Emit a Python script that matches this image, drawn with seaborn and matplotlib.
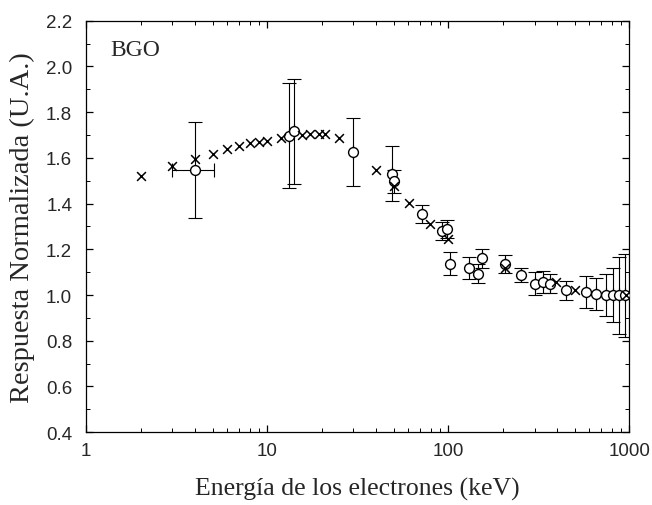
import numpy as np
import pandas as pd
import matplotlib
matplotlib.use("Agg")
import matplotlib.pyplot as plt
import seaborn as sns
from matplotlib.ticker import FixedLocator, FixedFormatter, LogLocator, NullFormatter, MultipleLocator

# Simulation (crosses)
sim_energy = [2, 3, 4, 5, 6, 7, 8, 9, 10, 12, 15.5, 17.3, 19.3, 21, 25, 40, 50, 61, 79, 100, 205, 396, 499, 961]
sim_resp = [1.52, 1.565, 1.597, 1.616, 1.637, 1.651, 1.663, 1.670, 1.675, 1.688, 1.702, 1.703, 1.703, 1.705,
            1.685, 1.546, 1.476, 1.404, 1.312, 1.247, 1.12, 1.057, 1.02, 0.998]

# Measurements (open circles) with errors
exp_energy = [4, 13.2, 14.0, 30, 49, 50, 71.5, 92, 98, 102, 131, 147, 153, 205, 254, 301, 334, 364,
              449, 574, 657, 740, 811, 883, 950]
exp_resp = [1.545, 1.697, 1.717, 1.626, 1.531, 1.497, 1.356, 1.279, 1.29, 1.137, 1.118, 1.094, 1.16,
            1.137, 1.086, 1.05, 1.057, 1.05, 1.02, 1.013, 1.006, 1.0, 1.0, 0.998, 0.998]
exp_err = [0.21, 0.23, 0.23, 0.15, 0.12, 0.05, 0.04, 0.04, 0.04, 0.05, 0.05, 0.04, 0.04, 0.04, 0.03,
           0.05, 0.05, 0.04, 0.04, 0.07, 0.07, 0.09, 0.12, 0.17, 0.18]
exp_xerr_lo = [1.0] + [0] * 24
exp_xerr_hi = [1.1] + [0] * 24

y_ticks = [0.4, 0.6, 0.8, 1.0, 1.2, 1.4, 1.6, 1.8, 2.0, 2.2]
y_labels = ["0.4", "0.6", "0.8", "1.0", "1.2", "1.4", "1.6", "1.8", "2.0", "2.2"]
x_ticks = [1, 10, 100, 1000]
x_labels = ["1", "10", "100", "1000"]

sim = pd.DataFrame({"E": sim_energy, "R": sim_resp})
exp = pd.DataFrame({"E": exp_energy, "R": exp_resp, "err": exp_err})

sns.set_theme(style="ticks")
plt.rcParams["font.family"] = ["Liberation Sans", "DejaVu Sans"]

fig = plt.figure(figsize=(6.52, 5.06), dpi=100)
ax = fig.add_axes([0.132, 0.144, 0.833, 0.813])
ax.set_xscale("log")

ax.errorbar(exp["E"], exp["R"], yerr=exp["err"], xerr=[exp_xerr_lo, exp_xerr_hi],
            fmt="none", ecolor="black", elinewidth=0.8, capsize=5, capthick=0.8)
sns.scatterplot(data=exp, x="E", y="R", ax=ax, marker="o", s=50, facecolor="white",
                edgecolor="black", linewidth=1.0, zorder=3)
sns.scatterplot(data=sim, x="E", y="R", ax=ax, marker="x", s=40, color="black",
                linewidth=1.1, zorder=4)

ax.set_xlim(1, 1000)
ax.set_ylim(0.4, 2.2)
ax.xaxis.set_major_locator(FixedLocator(x_ticks))
ax.xaxis.set_major_formatter(FixedFormatter(x_labels))
ax.xaxis.set_minor_locator(LogLocator(base=10, subs=np.arange(2, 10)))
ax.xaxis.set_minor_formatter(NullFormatter())
ax.yaxis.set_major_locator(FixedLocator(y_ticks))
ax.yaxis.set_major_formatter(FixedFormatter(y_labels))
ax.yaxis.set_minor_locator(MultipleLocator(0.1))

ax.tick_params(which="both", direction="in", top=True, right=True, color="black")
ax.tick_params(which="major", length=5, width=0.9, labelsize=13.5)
ax.tick_params(axis="y", which="major", pad=10)
ax.tick_params(axis="x", which="major", pad=7)
ax.tick_params(which="minor", length=3, width=0.7)
for s in ax.spines.values():
    s.set_color("black")
    s.set_linewidth(0.9)

ax.set_xlabel("Energía de los electrones (keV)", family="Liberation Serif", fontsize=18.5, labelpad=13)
ax.set_ylabel("Respuesta Normalizada (U.A.)", family="Liberation Serif", fontsize=20.5, labelpad=8)
ax.text(0.045, 0.955, "BGO", transform=ax.transAxes, family="Liberation Serif", fontsize=17,
        va="top", ha="left")

fig.savefig("out.png", dpi=100, facecolor="white")
